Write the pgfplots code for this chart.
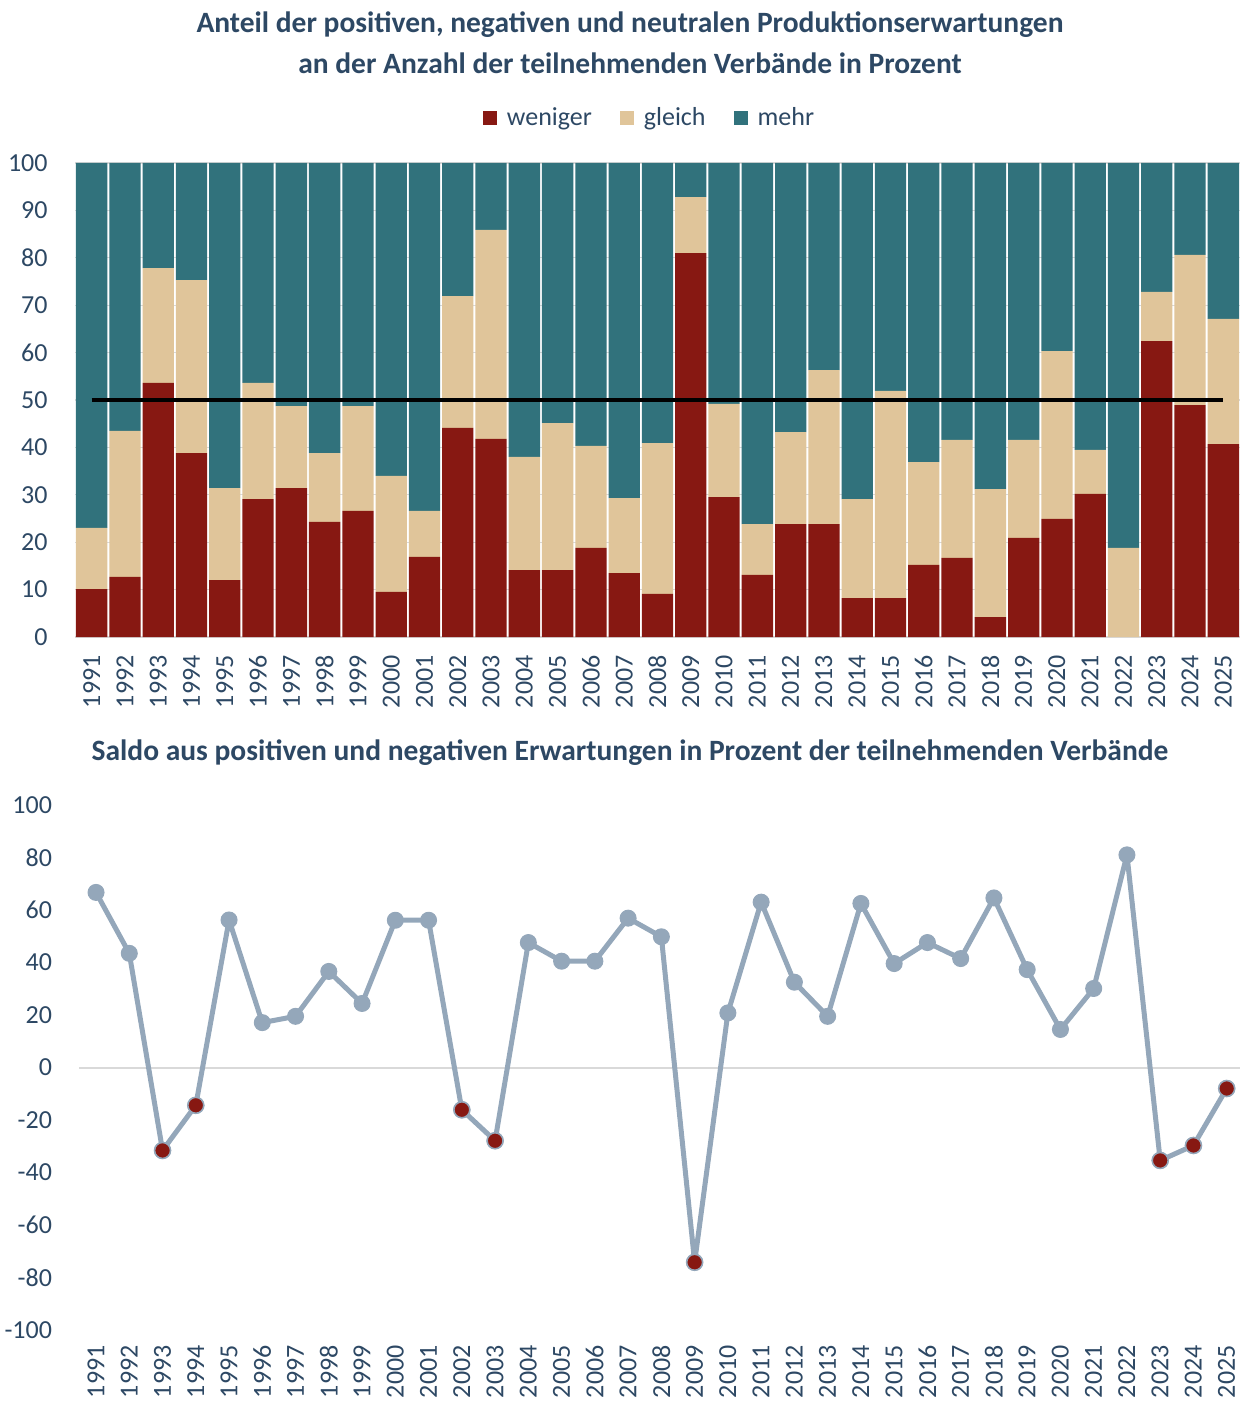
\documentclass[border=0pt]{standalone}
\usepackage{fontspec}
\setmainfont{Carlito}
\usepackage{pgfplots}
\usepackage{pgfplotstable}
\pgfplotsset{compat=1.18}

\definecolor{cred}{HTML}{871812}
\definecolor{ctan}{HTML}{E0C59A}
\definecolor{cteal}{HTML}{31727C}
\definecolor{ctext}{HTML}{2D4864}
\definecolor{cline}{HTML}{94A7BA}
\definecolor{cgrid}{HTML}{D9D9D9}

\pgfplotstableread{
year w g m
1991 10.1 12.9 77.0
1992 12.7 30.8 56.5
1993 53.6 24.2 22.2
1994 38.8 36.5 24.7
1995 12.0 19.4 68.6
1996 29.1 24.5 46.4
1997 31.4 17.3 51.3
1998 24.3 14.5 61.2
1999 26.6 22.1 51.3
2000 9.5 24.5 66.0
2001 16.9 9.7 73.4
2002 44.1 27.8 28.1
2003 41.8 44.1 14.1
2004 14.1 23.9 62.0
2005 14.1 31.0 54.9
2006 18.8 21.5 59.7
2007 13.5 15.8 70.7
2008 9.1 31.8 59.1
2009 81.0 11.8 7.2
2010 29.5 19.7 50.8
2011 13.1 10.7 76.2
2012 23.8 19.4 56.8
2013 23.8 32.5 43.7
2014 8.2 20.9 70.9
2015 8.2 43.7 48.1
2016 15.2 21.7 63.1
2017 16.7 24.9 58.4
2018 4.2 27.0 68.8
2019 20.9 20.7 58.4
2020 24.9 35.4 39.7
2021 30.2 9.3 60.5
2022 0.0 18.8 81.2
2023 62.4 10.4 27.2
2024 48.9 31.7 19.4
2025 40.7 26.4 32.9
}\shares

\pgfplotstableread{
year s
1991 66.7
1992 43.5
1993 -31.6
1994 -14.4
1995 56.2
1996 17.1
1997 19.5
1998 36.6
1999 24.4
2000 56.1
2001 56.1
2002 -16.1
2003 -27.9
2004 47.6
2005 40.5
2006 40.5
2007 56.9
2008 49.8
2009 -74.2
2010 20.8
2011 63.0
2012 32.5
2013 19.5
2014 62.5
2015 39.6
2016 47.6
2017 41.5
2018 64.6
2019 37.3
2020 14.5
2021 30.1
2022 81.0
2023 -35.4
2024 -29.7
2025 -8.0
}\saldo

\pgfplotstableread{
year s
1993 -31.6
1994 -14.4
2002 -16.1
2003 -27.9
2009 -74.2
2023 -35.4
2024 -29.7
2025 -8.0
}\saldoneg

\pgfplotsset{
  mybase/.style={
    scale only axis,
    anchor=south west,
    xmin=1990.5,
    xtick={1991,1992,...,2025},
    /pgf/number format/.cd, 1000 sep={}, assume math mode=true, /pgfplots/.cd,
    major tick length=0pt,
    tick label style={font=\fontsize{13}{15}\selectfont, text=ctext, inner sep=0pt},
    yticklabel style={anchor=east, xshift=-13.5pt},
  }
}

\begin{document}
\begin{tikzpicture}
\path[use as bounding box] (0,0) rectangle (620pt,-700.5pt);

% titles
\node[align=center, text=ctext, font=\bfseries\fontsize{14.75}{20.5}\selectfont] at (315pt,-21.25pt)
  {Anteil der positiven, negativen und neutralen Produktionserwartungen\\an der Anzahl der teilnehmenden Verbände in Prozent};
\node[text=ctext, font=\bfseries\fontsize{14.75}{16}\selectfont] at (315pt,-376.5pt)
  {Saldo aus positiven und negativen Erwartungen in Prozent der teilnehmenden Verbände};

% top stacked bars
\begin{axis}[mybase,
  at={(37.5pt,-318.5pt)},
  width=582.5pt, height=237pt,
  xmax=2025.5,
  ymin=0, ymax=100, ytick={0,10,...,100},
  ybar stacked, bar width=15.65pt,
  ymajorgrids, grid style={cgrid, line width=0.6pt},
  separate axis lines,
  x axis line style={cgrid, line width=1pt},
  y axis line style={draw=none},
  xticklabel style={yshift=-9pt, rotate=90, anchor=east},
  legend columns=3,
  legend style={at={(0.494,1.095)}, anchor=center, draw=none, fill=none,
    font=\fontsize{13}{15}\selectfont, text=ctext,
    /tikz/every odd column/.append style={column sep=3pt},
    /tikz/every even column/.append style={column sep=12pt}},
  legend image code/.code={\fill[#1] (0pt,-3.5pt) rectangle (7pt,3.5pt);},
]
\addplot[fill=cred, draw=none] table[x=year, y=w]{\shares};
\addplot[fill=ctan, draw=none] table[x=year, y=g]{\shares};
\addplot[fill=cteal, draw=none] table[x=year, y=m]{\shares};
\legend{weniger, gleich, mehr}
\end{axis}

% 50 % reference line
\begin{axis}[
  scale only axis, anchor=south west,
  at={(37.5pt,-318.5pt)},
  width=582.5pt, height=237pt,
  xmin=1990.5, xmax=2025.5, ymin=0, ymax=100,
  hide axis,
]
\addplot[black, line width=2pt] coordinates {(1991,50) (2025,50)};
\end{axis}

% bottom line chart
\begin{axis}[mybase,
  at={(39.7pt,-665pt)},
  width=580.3pt, height=262.5pt,
  xmax=2025.4,
  ymin=-100, ymax=100, ytick={-100,-80,...,100},
  axis line style={draw=none},
  xticklabel style={yshift=-7.5pt, rotate=90, anchor=east},
  extra y ticks={0}, extra y tick labels={},
  extra y tick style={grid=major, major grid style={cgrid, line width=1pt}},
  clip=false,
]
\addplot[cline, line width=2.5pt, line join=round, mark=*, mark size=4pt,
  mark options={fill=cline, draw=cline, line width=0.5pt}] table[x=year, y=s]{\saldo};
\addplot[only marks, mark=*, mark size=4pt,
  mark options={fill=cred, draw=cline, line width=0.8pt}] table[x=year, y=s]{\saldoneg};
\end{axis}
\end{tikzpicture}
\end{document}
